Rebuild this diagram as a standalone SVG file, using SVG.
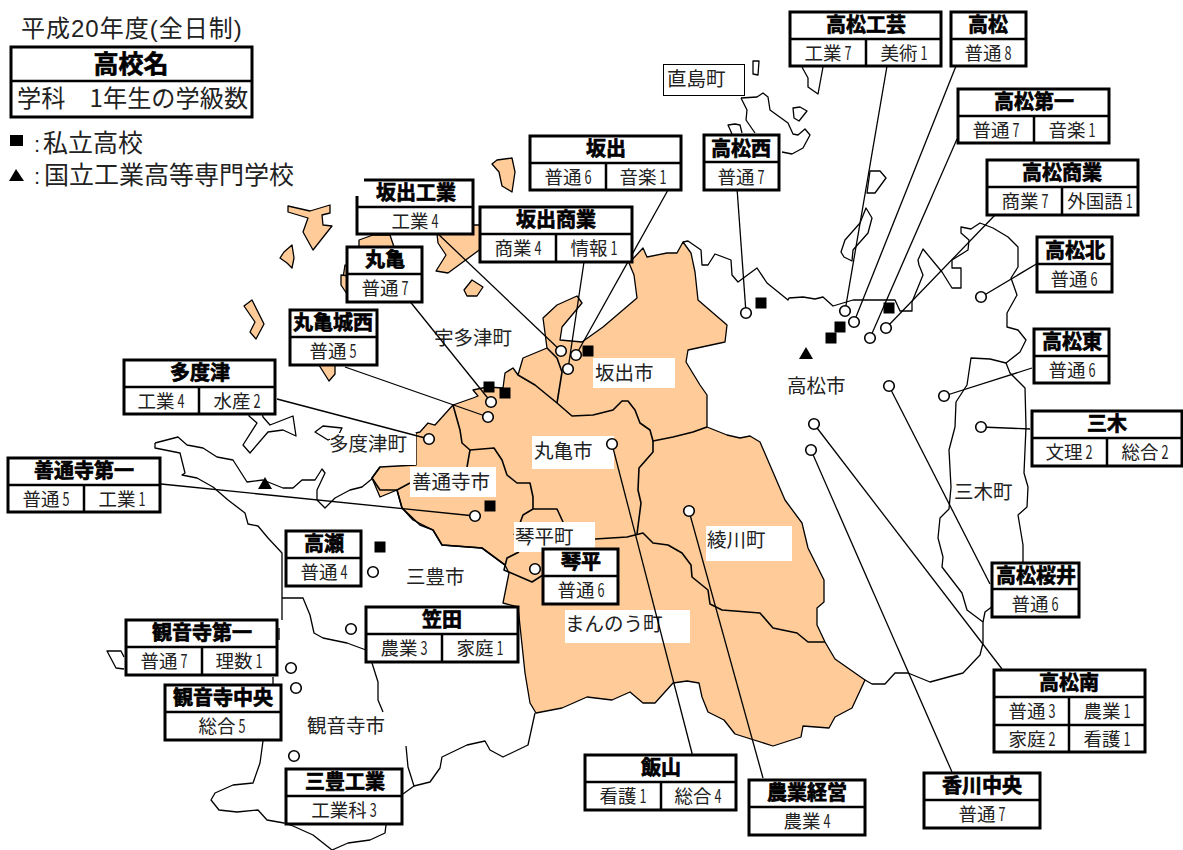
<svg xmlns="http://www.w3.org/2000/svg" width="1183" height="850" viewBox="0 0 1183 850">
<style>
text{font-family:"Noto Sans CJK JP","Liberation Sans",sans-serif;fill:#111}
.o{fill:#ffcc99;stroke:#000;stroke-width:1.3;stroke-linejoin:round}
.w{fill:#fff;stroke:#000;stroke-width:1.3;stroke-linejoin:round}
.c{fill:none;stroke:#000;stroke-width:1.3;stroke-linejoin:round}
.i{fill:none;stroke:#000;stroke-width:1.6;stroke-linejoin:round}
.lab{fill:#fff}
.cn line{stroke:#000;stroke-width:1.3}
.b{fill:#fff;stroke:#000;stroke-width:3}
.l{fill:none;stroke:#000;stroke-width:2.5}
.t{font-size:20px;font-weight:700;text-anchor:middle;stroke:#000;stroke-width:.7;fill:#000}
.r{font-size:18.5px;text-anchor:middle;fill:#222}
.d{font-size:18px}
.m{font-size:19.5px;fill:#222}
.s{fill:#000}
.p{fill:#fff;stroke:#000;stroke-width:1.6}
.leg{font-size:25px;fill:#222}
.col{font-family:"Liberation Sans",sans-serif;font-size:22px}
</style>
<defs>
<rect id="sq" x="-5.5" y="-5.5" width="11" height="11"/>
<path id="tri" d="M-7 6L0-6L7 6Z"/>
<circle id="pt" r="5.300"/>
</defs>
<g id="map">
<path class="c" d="M683 242L688 241L701 250L702 265L708 265L715 254L731 260L732 275L738 282L757 268L767 283L788 300L789 298L803 297L815 299L823 297L833 306L853 300L883 300L895 300L900 311L912 311L912 302L923 275L919 265L918 260L923 249L942 272L952 288L961 288L961 268L952 268L952 260L968 250L969 240L961 233L961 227L971 229L980 223L993 228L1008 237L1018 247L1018 267L1011 278L1017 295L1007 313L1007 327L1018 330L1026 340L1020 352L1006 363L1010 373L1025 388L1026 427L1024 473L1028 487L1027 507L1018 515L1023 545L1023 565"/>
<path class="c" d="M1006 363L990 359L971 358L967 385L956 402L955 427L949 450L951 487L949 509L940 518L938 538L943 557L942 567L962 593L967 610L983 622L983 643L980 655L963 673L930 682L908 673L895 673L885 684L872 684L865 680"/>
<path class="c" d="M983 622L985 612L993 606"/>
<path class="c" d="M155 443L178 437L187 445L203 448L217 457L233 460L247 482L263 480L283 488L293 488L302 480L315 480L322 469L325 473L317 490L317 500L325 508L335 498L350 490L362 487L373 478"/>
<path class="c" d="M155 443L155 448L180 453L185 473L182 475L197 478L213 487L228 500L245 513L248 524L258 526L268 538L282 553L282 620"/>
<path class="c" d="M282 598L303 598L310 615L314 633L323 638L347 643L366 650"/>
<path class="c" d="M372 663L378 682L378 700L383 712"/>
<path class="c" d="M406 746L408 767L414 786L430 782L440 768L442 757L467 745L485 741L490 750L503 757L528 745L535 713"/>
<path class="c" d="M403 794L414 786"/>
<path class="c" d="M279 628L279 640M273 677L273 684"/>
<path class="c" d="M263 741L260 763L253 783L233 785L215 793L211 800L219 810L237 812L258 810L267 820L284 823L293 826L313 835L332 850L348 843L370 840L385 833L386 825"/>
<path class="c" d="M124 657L121 651L107 651L116 668L124 669"/>
<path class="w" d="M250 407L261 407L263 417L270 425L293 416L296 436L283 430L268 432L250 453L243 445L257 423L249 416Z"/>
<path class="w" d="M315 432L323 426L342 428L338 436L328 440Z"/>
<path class="c" d="M741 98L757 97L763 93L768 97L770 110L788 123L793 134L798 135L805 129L810 135L803 148L792 154L782 152"/>
<path class="c" d="M741 98L747 110L746 120L755 133"/>
<path class="w" d="M753 61L759 61L758 75L753 74Z"/>
<path class="c" d="M732 134L728 125L735 124L740 125L742 133"/>
<path class="w" d="M793 108L800 107L807 111L799 121L794 118Z"/>
<path class="c" d="M802 67L808 78L808 87L818 94L823 67"/>
<path class="w" d="M870 171L880 171L886 178L875 193L867 193Z"/>
<path class="w" d="M860 223L866 208L872 218L868 233L853 250L852 261L844 257L841 252L845 240Z"/>
<path class="o" d="M683 242L691 253L695 272L698 300L727 325L725 342L688 350L686 362L700 385L707 395L707 427L727 435L740 438L750 436L760 442L785 500L802 523L808 548L824 580L824 602L817 608L817 625L825 642L835 659L865 680L852 708L835 717L829 728L803 726L801 737L773 746L735 734L724 720L708 712L702 697L699 683L687 681L673 683L655 703L643 703L630 692L612 700L587 697L562 708L536 713L530 703L525 673L518 607L503 603L509 573L505 565L482 548L442 545L433 530L413 520L402 508L397 490L380 497L372 478L380 467L416 465L416 433L420 432L428 423L435 425L453 405L473 398L478 396L473 390L487 387L503 388L505 373L513 368L518 375L523 358L547 348L543 318L557 305L577 296L582 303L562 327L560 340L582 342L603 327L637 298L634 275L629 263L643 248L647 257L667 253L677 253Z"/>
<path class="i" d="M518 375L535 385L557 403L572 416L593 415L613 410L622 401L628 401L635 410L640 423L650 430L653 441L673 437L693 432L707 427"/>
<path class="i" d="M547 348L557 358L562 372L557 403"/>
<path class="i" d="M453 405L460 430L462 443L470 450L494 448L502 460L507 475L517 483L530 483L533 497L533 509L557 509L563 522"/>
<path class="i" d="M533 509L523 515L520 523L514 535M519 552L507 558L504 570L532 582L543 575"/>
<path class="i" d="M470 450L467 467M380 467L372 478L380 490L397 490L410 483"/>
<path class="i" d="M397 490L402 508L420 525L433 530L442 545L482 548L505 565"/>
<path class="i" d="M653 441L653 452L639 468L638 490L641 503L637 534"/>
<path class="i" d="M595 539L627 537L643 533L653 543L668 545L682 553L691 565L692 577L708 590L710 604L722 610L760 613L773 628L797 633L808 642L825 642"/>
<path class="o" d="M288 206L310 211L330 205L330 213L322 215L323 225L332 226L313 250L303 232L308 218L288 212Z"/>
<path class="o" d="M292 245L294 258L292 268L287 263L280 258L284 252Z"/>
<path class="o" d="M244 306L252 300L264 324L256 339L250 332L255 322Z"/>
<path class="o" d="M317 362L335 362L335 374L329 381Z"/>
<path class="o" d="M359 240L373 235L390 235L395 250L359 250Z"/>
<path class="o" d="M345 265L350 270L350 280L343 278Z"/>
<path class="o" d="M341 275L350 276L350 295L347 294L341 285Z"/>
<path class="o" d="M436 225L438 243L446 255L436 271L448 273L482 248L482 225Z"/>
<path class="o" d="M472 280L483 287L477 296L467 296L464 290Z"/>
<path class="o" d="M492 164L497 160L512 158L515 172L512 192L502 186L499 172Z"/>
</g>
<g id="place-labels">
<rect class="lab" x="593" y="358" width="82" height="30"/>
<rect class="lab" x="532" y="436" width="82" height="33"/>
<rect class="lab" x="410" y="467" width="86" height="30"/>
<rect class="lab" x="330" y="433" width="86" height="32"/>
<rect class="lab" x="514" y="522" width="81" height="30"/>
<rect class="lab" x="706" y="526" width="86" height="35"/>
<rect class="lab" x="565" y="610" width="125" height="33"/>
<rect x="663.500" y="64.500" width="81" height="31" fill="#fff" stroke="#000" stroke-width="1"/>
<text class="m" x="595" y="380">坂出市</text>
<text class="m" x="534" y="458">丸亀市</text>
<text class="m" x="412" y="489">善通寺市</text>
<text class="m" x="329" y="451">多度津町</text>
<text class="m" x="515" y="544">琴平町</text>
<text class="m" x="707" y="547">綾川町</text>
<text class="m" x="565" y="631">まんのう町</text>
<text class="m" x="667" y="86">直島町</text>
<text class="m" x="434" y="345">宇多津町</text>
<text class="m" x="787" y="393">高松市</text>
<text class="m" x="954" y="499">三木町</text>
<text class="m" x="406" y="584">三豊市</text>
<text class="m" x="307" y="733">観音寺市</text>
</g>
<g id="connectors" class="cn">
<line x1="887" y1="66" x2="845" y2="311"/>
<line x1="956" y1="66" x2="854" y2="322"/>
<line x1="957" y1="139" x2="870" y2="338"/>
<line x1="996" y1="214" x2="886" y2="328"/>
<line x1="737" y1="188" x2="746" y2="313"/>
<line x1="1038" y1="263" x2="981" y2="297"/>
<line x1="1032" y1="368" x2="944" y2="396"/>
<line x1="1030" y1="429" x2="981" y2="427"/>
<line x1="990" y1="584" x2="889" y2="386"/>
<line x1="1002" y1="669" x2="814" y2="424"/>
<line x1="952" y1="772" x2="811" y2="450"/>
<line x1="763" y1="778" x2="689" y2="511"/>
<line x1="693" y1="757" x2="612" y2="444"/>
<line x1="668" y1="190" x2="576" y2="355"/>
<line x1="584" y1="262" x2="568" y2="369"/>
<line x1="436" y1="232" x2="561" y2="351"/>
<line x1="408" y1="299" x2="491" y2="402"/>
<line x1="345" y1="367" x2="488" y2="417"/>
<line x1="277" y1="399" x2="429" y2="439"/>
<line x1="161" y1="484" x2="475" y2="516"/>
</g>
<g id="points" class="p">
<use href="#pt" x="746" y="313"/><use href="#pt" x="845" y="311"/><use href="#pt" x="854" y="322"/><use href="#pt" x="870" y="338"/><use href="#pt" x="886" y="328"/><use href="#pt" x="981" y="297"/><use href="#pt" x="944" y="396"/><use href="#pt" x="889" y="386"/><use href="#pt" x="981" y="427"/><use href="#pt" x="561" y="351"/><use href="#pt" x="576" y="355"/><use href="#pt" x="568" y="369"/><use href="#pt" x="491" y="402"/><use href="#pt" x="488" y="417"/><use href="#pt" x="429" y="439"/><use href="#pt" x="612" y="444"/><use href="#pt" x="475" y="516"/><use href="#pt" x="689" y="511"/><use href="#pt" x="535" y="569"/><use href="#pt" x="373" y="572"/><use href="#pt" x="351" y="629"/><use href="#pt" x="291" y="668"/><use href="#pt" x="296" y="688"/><use href="#pt" x="294" y="756"/><use href="#pt" x="814" y="424"/><use href="#pt" x="811" y="450"/>
</g>
<g id="markers" class="s">
<use href="#sq" x="489" y="387"/><use href="#sq" x="505" y="393"/><use href="#sq" x="588" y="351"/><use href="#sq" x="490" y="506"/><use href="#sq" x="380" y="547"/><use href="#sq" x="761" y="303"/><use href="#sq" x="840" y="327"/><use href="#sq" x="831" y="338"/><use href="#sq" x="889" y="308"/>
<use href="#tri" x="265" y="483"/><use href="#tri" x="806" y="353"/>
</g>
<g id="legend">
<text x="21" y="37" style="font-size:24px;letter-spacing:1px;fill:#222;font-family:'Liberation Sans','Noto Sans CJK JP',sans-serif">平成20年度(全日制)</text>
<rect class="b" x="11" y="47" width="241" height="70"/>
<path class="l" d="M11 81H252"/>
<text class="t" x="131" y="73" style="font-size:25px">高校名</text>
<text x="17" y="107" style="font-size:24.2px;fill:#222">学科　1年生の学級数</text>
<rect class="s" x="10" y="135" width="13" height="11"/>
<text class="leg" x="43" y="152"><tspan class="col" x="34">:</tspan><tspan x="43">私立高校</tspan></text>
<path class="s" d="M9 181L16 169L24 181Z"/>
<text class="leg" x="43" y="184"><tspan class="col" x="34">:</tspan><tspan x="44">国立工業高等専門学校</tspan></text>
</g>
<g id="n-kogei"><rect class="b" x="790" y="12" width="151" height="54"/><path class="l" d="M790 39H941M866 39V66"/><text class="t" x="866" y="32">高松工芸</text><text class="r" x="828" y="60">工業<tspan class="d" dx="3" textLength="7" lengthAdjust="spacingAndGlyphs">7</tspan></text><text class="r" x="904" y="60">美術<tspan class="d" dx="3" textLength="7" lengthAdjust="spacingAndGlyphs">1</tspan></text></g>
<g id="n-takamatsu"><rect class="b" x="951" y="12" width="75" height="54"/><path class="l" d="M951 39H1026"/><text class="t" x="988" y="32">高松</text><text class="r" x="988" y="60">普通<tspan class="d" dx="3" textLength="7" lengthAdjust="spacingAndGlyphs">8</tspan></text></g>
<g id="n-dai1"><rect class="b" x="958" y="89" width="151" height="54"/><path class="l" d="M958 116H1109M1034 116V143"/><text class="t" x="1034" y="109">高松第一</text><text class="r" x="996" y="137">普通<tspan class="d" dx="3" textLength="7" lengthAdjust="spacingAndGlyphs">7</tspan></text><text class="r" x="1072" y="137">音楽<tspan class="d" dx="3" textLength="7" lengthAdjust="spacingAndGlyphs">1</tspan></text></g>
<g id="n-sakaide"><rect class="b" x="530" y="136" width="151" height="54"/><path class="l" d="M530 163H681M606 163V190"/><text class="t" x="606" y="156">坂出</text><text class="r" x="568" y="184">普通<tspan class="d" dx="3" textLength="7" lengthAdjust="spacingAndGlyphs">6</tspan></text><text class="r" x="643" y="184">音楽<tspan class="d" dx="3" textLength="7" lengthAdjust="spacingAndGlyphs">1</tspan></text></g>
<g id="n-nishi"><rect class="b" x="704" y="135" width="75" height="55"/><path class="l" d="M704 162H779"/><text class="t" x="741" y="156">高松西</text><text class="r" x="741" y="184">普通<tspan class="d" dx="3" textLength="7" lengthAdjust="spacingAndGlyphs">7</tspan></text></g>
<g id="n-shogyo"><rect class="b" x="987" y="160" width="151" height="55"/><path class="l" d="M987 187H1138M1062 187V215"/><text class="t" x="1062" y="180">高松商業</text><text class="r" x="1025" y="208">商業<tspan class="d" dx="3" textLength="7" lengthAdjust="spacingAndGlyphs">7</tspan></text><text class="r" x="1100" y="208">外国語<tspan class="d" dx="3" textLength="7" lengthAdjust="spacingAndGlyphs">1</tspan></text></g>
<g id="n-sakaide-kogyo"><rect x="357" y="180" width="116" height="54" fill="#fff"/><path class="l" style="stroke-width:3" d="M364 180H473V234H357V196"/><path class="l" d="M357 207H473"/><text class="t" x="416" y="200">坂出工業</text><text class="r" x="415" y="228">工業<tspan class="d" dx="3" textLength="7" lengthAdjust="spacingAndGlyphs">4</tspan></text></g>
<g id="n-sakaide-shogyo"><rect class="b" x="480" y="207" width="152" height="55"/><path class="l" d="M480 234H632M556 234V262"/><text class="t" x="556" y="227">坂出商業</text><text class="r" x="518" y="255">商業<tspan class="d" dx="3" textLength="7" lengthAdjust="spacingAndGlyphs">4</tspan></text><text class="r" x="594" y="255">情報<tspan class="d" dx="3" textLength="7" lengthAdjust="spacingAndGlyphs">1</tspan></text></g>
<g id="n-marugame"><rect class="b" x="347" y="247" width="75" height="55"/><path class="l" d="M347 274H422"/><text class="t" x="385" y="267">丸亀</text><text class="r" x="385" y="295">普通<tspan class="d" dx="3" textLength="7" lengthAdjust="spacingAndGlyphs">7</tspan></text></g>
<g id="n-jonishi"><rect class="b" x="290" y="310" width="87" height="55"/><path class="l" d="M290 337H377"/><text class="t" x="333" y="330">丸亀城西</text><text class="r" x="333" y="358">普通<tspan class="d" dx="3" textLength="7" lengthAdjust="spacingAndGlyphs">5</tspan></text></g>
<g id="n-tadotsu"><rect class="b" x="124" y="360" width="151" height="54"/><path class="l" d="M124 387H275M199 387V414"/><text class="t" x="200" y="380">多度津</text><text class="r" x="161" y="408">工業<tspan class="d" dx="3" textLength="7" lengthAdjust="spacingAndGlyphs">4</tspan></text><text class="r" x="237" y="408">水産<tspan class="d" dx="3" textLength="7" lengthAdjust="spacingAndGlyphs">2</tspan></text></g>
<g id="n-zentsuji"><rect class="b" x="8" y="458" width="152" height="54"/><path class="l" d="M8 485H160M84 485V512"/><text class="t" x="84" y="478">善通寺第一</text><text class="r" x="46" y="506">普通<tspan class="d" dx="3" textLength="7" lengthAdjust="spacingAndGlyphs">5</tspan></text><text class="r" x="122" y="506">工業<tspan class="d" dx="3" textLength="7" lengthAdjust="spacingAndGlyphs">1</tspan></text></g>
<g id="n-takase"><rect class="b" x="286" y="531" width="75" height="55"/><path class="l" d="M286 558H361"/><text class="t" x="324" y="551">高瀬</text><text class="r" x="324" y="579">普通<tspan class="d" dx="3" textLength="7" lengthAdjust="spacingAndGlyphs">4</tspan></text></g>
<g id="n-kasada"><rect class="b" x="366" y="607" width="152" height="55"/><path class="l" d="M366 634H518M442 634V662"/><text class="t" x="442" y="627">笠田</text><text class="r" x="404" y="655">農業<tspan class="d" dx="3" textLength="7" lengthAdjust="spacingAndGlyphs">3</tspan></text><text class="r" x="480" y="655">家庭<tspan class="d" dx="3" textLength="7" lengthAdjust="spacingAndGlyphs">1</tspan></text></g>
<g id="n-kotohira"><rect class="b" x="543" y="549" width="75" height="55"/><path class="l" d="M543 576H618"/><text class="t" x="581" y="569">琴平</text><text class="r" x="581" y="597">普通<tspan class="d" dx="3" textLength="7" lengthAdjust="spacingAndGlyphs">6</tspan></text></g>
<g id="n-kan1"><rect class="b" x="126" y="620" width="151" height="55"/><path class="l" d="M126 647H277M202 647V675"/><text class="t" x="202" y="640">観音寺第一</text><text class="r" x="164" y="668">普通<tspan class="d" dx="3" textLength="7" lengthAdjust="spacingAndGlyphs">7</tspan></text><text class="r" x="239" y="668">理数<tspan class="d" dx="3" textLength="7" lengthAdjust="spacingAndGlyphs">1</tspan></text></g>
<g id="n-kanchuo"><rect class="b" x="165" y="685" width="116" height="55"/><path class="l" d="M165 712H281"/><text class="t" x="223" y="705">観音寺中央</text><text class="r" x="222" y="733">総合<tspan class="d" dx="3" textLength="7" lengthAdjust="spacingAndGlyphs">5</tspan></text></g>
<g id="n-mitoyo"><rect class="b" x="286" y="769" width="116" height="55"/><path class="l" d="M286 796H402"/><text class="t" x="345" y="789">三豊工業</text><text class="r" x="344" y="817">工業科<tspan class="d" dx="3" textLength="7" lengthAdjust="spacingAndGlyphs">3</tspan></text></g>
<g id="n-iiyama"><rect class="b" x="585" y="755" width="151" height="55"/><path class="l" d="M585 782H736M661 782V810"/><text class="t" x="661" y="775">飯山</text><text class="r" x="623" y="803">看護<tspan class="d" dx="3" textLength="7" lengthAdjust="spacingAndGlyphs">1</tspan></text><text class="r" x="698" y="803">総合<tspan class="d" dx="3" textLength="7" lengthAdjust="spacingAndGlyphs">4</tspan></text></g>
<g id="n-nogyo"><rect class="b" x="749" y="780" width="116" height="55"/><path class="l" d="M749 807H865"/><text class="t" x="807" y="800">農業経営</text><text class="r" x="807" y="828">農業<tspan class="d" dx="3" textLength="7" lengthAdjust="spacingAndGlyphs">4</tspan></text></g>
<g id="n-kagawachuo"><rect class="b" x="924" y="773" width="116" height="55"/><path class="l" d="M924 800H1040"/><text class="t" x="982" y="793">香川中央</text><text class="r" x="982" y="821">普通<tspan class="d" dx="3" textLength="7" lengthAdjust="spacingAndGlyphs">7</tspan></text></g>
<g id="n-minami"><rect class="b" x="994" y="670" width="151" height="82"/><path class="l" d="M994 697H1145M994 725H1145M1069 697V752"/><text class="t" x="1069" y="690">高松南</text><text class="r" x="1032" y="718">普通<tspan class="d" dx="3" textLength="7" lengthAdjust="spacingAndGlyphs">3</tspan></text><text class="r" x="1107" y="718">農業<tspan class="d" dx="3" textLength="7" lengthAdjust="spacingAndGlyphs">1</tspan></text><text class="r" x="1032" y="746">家庭<tspan class="d" dx="3" textLength="7" lengthAdjust="spacingAndGlyphs">2</tspan></text><text class="r" x="1107" y="746">看護<tspan class="d" dx="3" textLength="7" lengthAdjust="spacingAndGlyphs">1</tspan></text></g>
<g id="n-sakurai"><rect class="b" x="992" y="563" width="87" height="54"/><path class="l" d="M992 589H1079"/><text class="t" x="1036" y="583">高松桜井</text><text class="r" x="1035" y="611">普通<tspan class="d" dx="3" textLength="7" lengthAdjust="spacingAndGlyphs">6</tspan></text></g>
<g id="n-miki"><rect class="b" x="1032" y="411" width="150" height="55"/><path class="l" d="M1032 438H1182M1107 438V466"/><text class="t" x="1107" y="431">三木</text><text class="r" x="1069" y="459">文理<tspan class="d" dx="3" textLength="7" lengthAdjust="spacingAndGlyphs">2</tspan></text><text class="r" x="1145" y="459">総合<tspan class="d" dx="3" textLength="7" lengthAdjust="spacingAndGlyphs">2</tspan></text></g>
<g id="n-higashi"><rect class="b" x="1034" y="329" width="75" height="54"/><path class="l" d="M1034 356H1109"/><text class="t" x="1072" y="349">高松東</text><text class="r" x="1072" y="377">普通<tspan class="d" dx="3" textLength="7" lengthAdjust="spacingAndGlyphs">6</tspan></text></g>
<g id="n-kita"><rect class="b" x="1037" y="237" width="75" height="55"/><path class="l" d="M1037 264H1112"/><text class="t" x="1075" y="258">高松北</text><text class="r" x="1074" y="286">普通<tspan class="d" dx="3" textLength="7" lengthAdjust="spacingAndGlyphs">6</tspan></text></g>
</svg>
